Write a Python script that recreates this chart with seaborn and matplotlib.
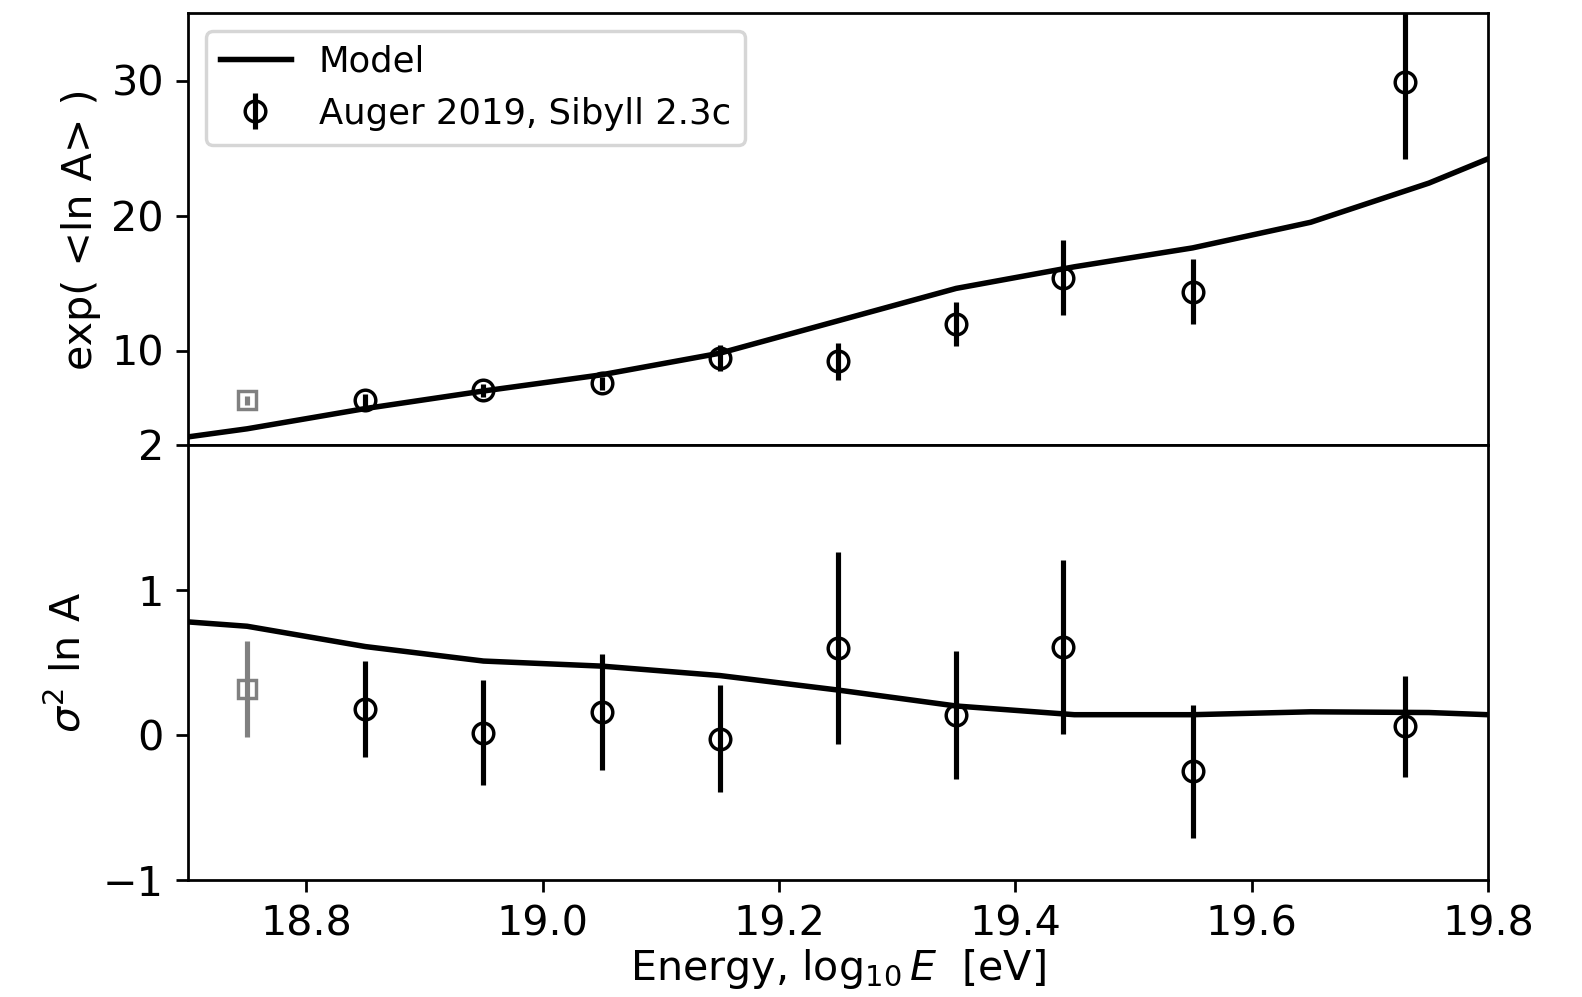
import numpy as np
import pandas as pd
import matplotlib
matplotlib.use("Agg")
import matplotlib.pyplot as plt
import seaborn as sns

# ---- data ----
model_x = [18.7, 18.75, 18.85, 18.95, 19.05, 19.15, 19.25, 19.35, 19.45, 19.55, 19.65, 19.75, 19.8]
model_expA = [3.6, 4.2, 5.7, 7.0, 8.2, 9.8, 12.2, 14.6, 16.2, 17.6, 19.5, 22.4, 24.2]
model_sig2 = [0.78, 0.75, 0.61, 0.51, 0.475, 0.41, 0.31, 0.20, 0.14, 0.14, 0.16, 0.155, 0.14]

auger_x = [18.85, 18.95, 19.05, 19.15, 19.25, 19.35, 19.44, 19.55, 19.73]
auger_expA = [6.3, 7.05, 7.56, 9.45, 9.2, 11.97, 15.4, 14.35, 29.9]
auger_expA_err = [0.5, 0.5, 0.5, 0.95, 1.35, 1.6, 2.8, 2.4, 5.7]
auger_sig2 = [0.18, 0.016, 0.16, -0.025, 0.60, 0.14, 0.61, -0.25, 0.06]
auger_sig2_err = [0.33, 0.36, 0.40, 0.37, 0.66, 0.44, 0.60, 0.46, 0.35]

low_x = [18.75]
low_expA = [6.3]
low_expA_err = [0.3]
low_sig2 = [0.316]
low_sig2_err = [0.33]

xticks = [18.8, 19.0, 19.2, 19.4, 19.6, 19.8]
top_yticks = [10, 20, 30]
bot_yticks = [-1, 0, 1, 2]

model_df = pd.DataFrame({"x": model_x, "expA": model_expA, "sig2": model_sig2})

plt.rcParams["xtick.labelsize"] = 12
plt.rcParams["ytick.labelsize"] = 12
plt.rcParams["axes.labelsize"] = 12

dpi = 247.2
fig = plt.figure(figsize=(1582 / dpi, 997 / dpi), dpi=dpi)
left, right = 188 / 1582, 1488 / 1582
top, mid, bot = 1 - 13 / 997, 1 - 445 / 997, 1 - 880 / 997
ax1 = fig.add_axes([left, mid, right - left, top - mid])
ax2 = fig.add_axes([left, bot, right - left, mid - bot], sharex=ax1)

# top panel
sns.lineplot(data=model_df, x="x", y="expA", ax=ax1, color="black", lw=1.6, label="Model")
ax1.errorbar(auger_x, auger_expA, yerr=auger_expA_err, fmt="o", color="black",
             mfc="none", mec="black", ms=6, mew=1.0, elinewidth=1.5,
             label="Auger 2019, Sibyll 2.3c")
ax1.errorbar(low_x, low_expA, yerr=low_expA_err, fmt="s", color="grey",
             mfc="none", mec="grey", ms=5, mew=1.0, elinewidth=1.5)
ax1.set_ylim(3, 35)
ax1.set_yticks(top_yticks)
ax1.set_ylabel("exp( <ln A> )", labelpad=3)
ax1.set_xlabel("")
ax1.tick_params(axis="x", bottom=False, labelbottom=False)
ax1.legend(loc="upper left", fontsize=10.3)

# bottom panel
sns.lineplot(data=model_df, x="x", y="sig2", ax=ax2, color="black", lw=1.6, legend=False)
ax2.errorbar(auger_x, auger_sig2, yerr=auger_sig2_err, fmt="o", color="black",
             mfc="none", mec="black", ms=6, mew=1.0, elinewidth=1.5)
ax2.errorbar(low_x, low_sig2, yerr=low_sig2_err, fmt="s", color="grey",
             mfc="none", mec="grey", ms=5, mew=1.0, elinewidth=1.5)
ax2.set_ylim(-1, 2)
ax2.set_yticks(bot_yticks)
ax2.set_xlim(18.7, 19.8)
ax2.set_xticks(xticks)
ax2.set_xticklabels([f"{t:.1f}" for t in xticks])
ax2.set_ylabel(r"$\sigma^2$ ln A")
ax2.set_xlabel(r"Energy, $\log_{10}E$  [eV]", labelpad=1)

fig.savefig("out.png", dpi=dpi)
